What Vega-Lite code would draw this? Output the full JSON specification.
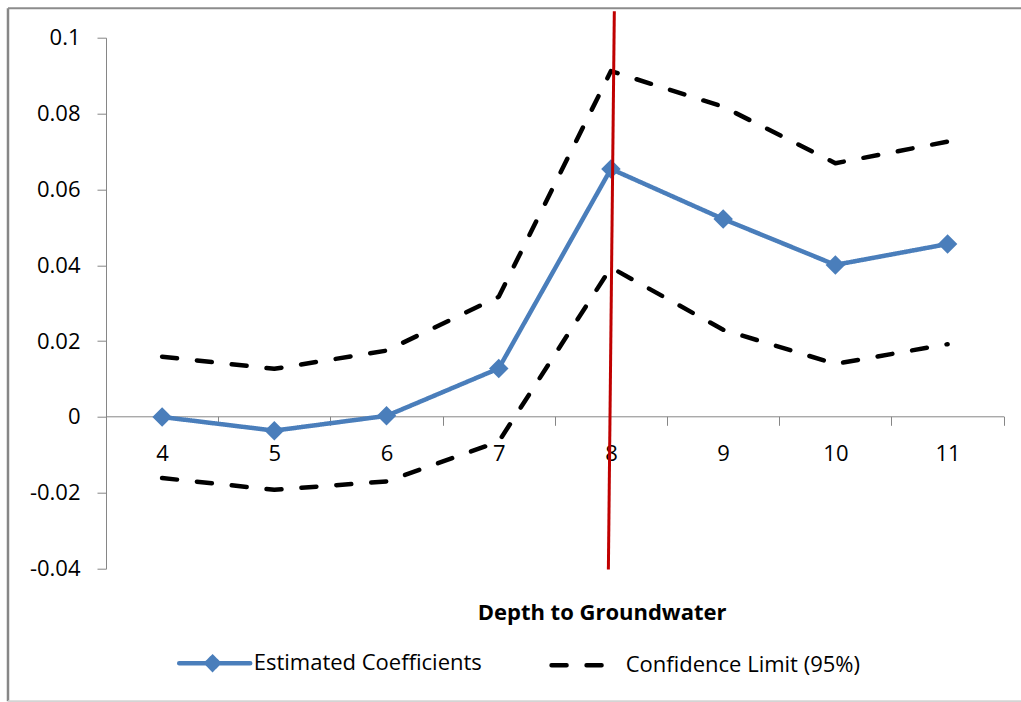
{
  "$schema": "https://vega.github.io/schema/vega-lite/v6.json",
  "width": 897.7,
  "height": 531,
  "autosize": {"type": "none"},
  "padding": {"left": 106, "top": 37.7, "right": 17.3, "bottom": 133.3},
  "background": "white",
  "config": {"view": {"stroke": null}, "font": "Open Sans"},
  "datasets": {
    "series": [
      {"depth": 4, "value": 0.0, "series": "Estimated Coefficients", "line": "est"},
      {"depth": 5, "value": -0.0036, "series": "Estimated Coefficients", "line": "est"},
      {"depth": 6, "value": 0.0003, "series": "Estimated Coefficients", "line": "est"},
      {"depth": 7, "value": 0.0128, "series": "Estimated Coefficients", "line": "est"},
      {"depth": 8, "value": 0.0654, "series": "Estimated Coefficients", "line": "est"},
      {"depth": 9, "value": 0.0522, "series": "Estimated Coefficients", "line": "est"},
      {"depth": 10, "value": 0.0401, "series": "Estimated Coefficients", "line": "est"},
      {"depth": 11, "value": 0.0456, "series": "Estimated Coefficients", "line": "est"},
      {"depth": 4, "value": 0.0159, "series": "Confidence Limit (95%)", "line": "upper"},
      {"depth": 5, "value": 0.0127, "series": "Confidence Limit (95%)", "line": "upper"},
      {"depth": 6, "value": 0.0175, "series": "Confidence Limit (95%)", "line": "upper"},
      {"depth": 7, "value": 0.0317, "series": "Confidence Limit (95%)", "line": "upper"},
      {"depth": 8, "value": 0.0912, "series": "Confidence Limit (95%)", "line": "upper"},
      {"depth": 9, "value": 0.0818, "series": "Confidence Limit (95%)", "line": "upper"},
      {"depth": 10, "value": 0.0669, "series": "Confidence Limit (95%)", "line": "upper"},
      {"depth": 11, "value": 0.0726, "series": "Confidence Limit (95%)", "line": "upper"},
      {"depth": 4, "value": -0.0161, "series": "Confidence Limit (95%)", "line": "lower"},
      {"depth": 5, "value": -0.0192, "series": "Confidence Limit (95%)", "line": "lower"},
      {"depth": 6, "value": -0.017, "series": "Confidence Limit (95%)", "line": "lower"},
      {"depth": 7, "value": -0.0065, "series": "Confidence Limit (95%)", "line": "lower"},
      {"depth": 8, "value": 0.0394, "series": "Confidence Limit (95%)", "line": "lower"},
      {"depth": 9, "value": 0.023, "series": "Confidence Limit (95%)", "line": "lower"},
      {"depth": 10, "value": 0.014, "series": "Confidence Limit (95%)", "line": "lower"},
      {"depth": 11, "value": 0.0192, "series": "Confidence Limit (95%)", "line": "lower"}
    ],
    "marker": [
      {"depth": 8.03, "value": 0.107, "depth2": 7.977, "value2": -0.0402}
    ],
    "frame": [{}]
  },
  "layer": [
    {
      "data": {"name": "frame"},
      "mark": {"type": "rule", "color": "#878787", "strokeWidth": 2.5, "clip": false},
      "encoding": {
        "x": {"datum": 2.6266, "type": "quantitative", "scale": {"domain": [3.5, 11.5], "nice": false, "zero": false}},
        "y": {"datum": 0.10778, "type": "quantitative"},
        "y2": {"datum": -0.07493}
      }
    },
    {
      "data": {"name": "frame"},
      "mark": {"type": "rule", "color": "#8c8c8c", "strokeWidth": 2, "clip": false},
      "encoding": {
        "x": {"datum": 2.6266, "type": "quantitative"},
        "x2": {"datum": 11.75},
        "y": {"datum": 0.10778, "type": "quantitative"}
      }
    },
    {
      "data": {"name": "frame"},
      "mark": {"type": "rule", "color": "#d4d4d4", "strokeWidth": 2, "clip": false},
      "encoding": {
        "x": {"datum": 2.6266, "type": "quantitative"},
        "x2": {"datum": 11.75},
        "y": {"datum": -0.07493, "type": "quantitative"}
      }
    },
    {
      "data": {"name": "series"},
      "mark": {"type": "line", "strokeWidth": 4.5, "strokeCap": "round", "strokeJoin": "round"},
      "encoding": {
        "x": {
          "field": "depth", "type": "quantitative",
          "scale": {"domain": [3.5, 11.5], "nice": false, "zero": false},
          "axis": {
            "offset": -152.4,
            "values": [3.5, 4, 4.5, 5, 5.5, 6, 6.5, 7, 7.5, 8, 8.5, 9, 9.5, 10, 10.5, 11, 11.5],
            "labelExpr": "datum.value % 1 === 0 ? '' + datum.value : ''",
            "tickOpacity": {"condition": {"test": "datum.value % 1 === 0", "value": 0}, "value": 1},
            "tickSize": 9,
            "tickColor": "#868686",
            "domainColor": "#868686",
            "grid": false,
            "labelFont": "Open Sans",
            "labelFontSize": 22,
            "labelColor": "#000000",
            "labelPadding": 18,
            "labelFlush": false,
            "labelOverlap": false,
            "title": "Depth to Groundwater",
            "titleFont": "Open Sans",
            "titleFontSize": 22,
            "titleFontWeight": "bold",
            "titleColor": "#000000",
            "titleX": 495.6,
            "titleY": 195.7,
            "titleAlign": "center",
            "titleBaseline": "middle"
          }
        },
        "y": {
          "field": "value", "type": "quantitative",
          "scale": {"domain": [-0.04, 0.1], "nice": false, "zero": false},
          "axis": {
            "values": [-0.04, -0.02, 0, 0.02, 0.04, 0.06, 0.08, 0.1],
            "labelExpr": "'' + datum.value",
            "tickSize": 9,
            "tickColor": "#868686",
            "domainColor": "#868686",
            "grid": false,
            "labelFont": "Open Sans",
            "labelFontSize": 22,
            "labelColor": "#000000",
            "labelPadding": 17,
            "labelFlush": false,
            "labelOverlap": false,
            "title": null
          }
        },
        "color": {
          "field": "series", "type": "nominal",
          "scale": {"domain": ["Estimated Coefficients", "Confidence Limit (95%)"], "range": ["#4A7EBB", "#000000"]},
          "legend": {
            "title": null,
            "orient": "none",
            "direction": "horizontal",
            "legendX": 70.7,
            "legendY": 587,
            "padding": 0,
            "symbolSize": 5041,
            "symbolStrokeWidth": 4.5,
            "labelOffset": 1,
            "columnPadding": 59,
            "labelFont": "Open Sans",
            "labelFontSize": 22,
            "labelColor": "#000000",
            "labelLimit": 400,
            "encode": {
              "symbols": {
                "update": {
                  "shape": {"signal": "datum.value === 'Estimated Coefficients' ? 'M-1,0H1M-0.06,-0.17L0.11,0L-0.06,0.17L-0.23,0Z' : 'M-0.99,0H0.48'"},
                  "fill": {"signal": "datum.value === 'Estimated Coefficients' ? '#4A7EBB' : 'transparent'"},
                  "strokeDash": {"signal": "datum.value === 'Estimated Coefficients' ? [1, 0] : [15, 20]"},
                  "strokeCap": {"value": "round"},
                  "strokeWidth": {"value": 4.5},
                  "opacity": {"value": 1}
                }
              }
            }
          }
        },
        "strokeDash": {
          "field": "series", "type": "nominal",
          "scale": {"domain": ["Estimated Coefficients", "Confidence Limit (95%)"], "range": [[1, 0], [15, 20]]},
          "legend": null
        },
        "detail": {"field": "line"}
      }
    },
    {
      "data": {"name": "series"},
      "transform": [{"filter": "datum.series === 'Estimated Coefficients'"}],
      "mark": {"type": "point", "shape": "diamond", "filled": true, "size": 380, "color": "#4A7EBB", "opacity": 1},
      "encoding": {
        "x": {"field": "depth", "type": "quantitative"},
        "y": {"field": "value", "type": "quantitative"}
      }
    },
    {
      "data": {"name": "marker"},
      "mark": {"type": "rule", "color": "#C00000", "strokeWidth": 3, "clip": false},
      "encoding": {
        "x": {"field": "depth", "type": "quantitative"},
        "y": {"field": "value", "type": "quantitative"},
        "x2": {"field": "depth2"},
        "y2": {"field": "value2"}
      }
    }
  ]
}
